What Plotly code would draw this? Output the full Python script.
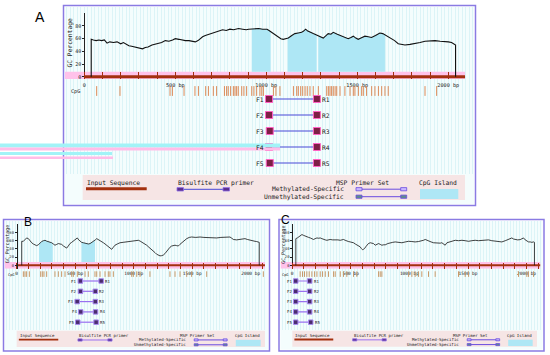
import numpy as np
import plotly.graph_objects as go

W, H = 550, 355
MONO = "DejaVu Sans Mono"
SANS = "Liberation Sans"

# ---------------- data: panel A ----------------
a_bp = [38, 50, 65, 80, 95, 110, 125, 140, 160, 180, 200, 215, 230, 245, 260, 275, 290, 305, 320, 335,
        350, 372, 390, 408, 425, 445, 465, 485, 500, 520, 537, 555, 575, 590, 610, 625, 638, 650, 665, 685,
        702, 720, 738, 760, 780, 800, 820, 848, 870, 890, 903, 930, 958, 980, 1004, 1015, 1031, 1045, 1066, 1080,
        1093, 1110, 1121, 1140, 1157, 1175, 1194, 1205, 1216, 1228, 1240, 1258, 1276, 1295, 1313, 1325, 1340, 1355, 1368, 1390,
        1414, 1430, 1450, 1465, 1478, 1492, 1505, 1520, 1542, 1560, 1578, 1600, 1624, 1640, 1652, 1670, 1688, 1705, 1725, 1745,
        1762, 1790, 1817, 1845, 1872, 1900, 1927, 1955, 1982, 2000, 2018, 2030, 2040]
a_gc = [59, 58, 57, 58, 57, 58, 53, 55, 54, 55, 52, 54, 51, 49, 48, 47, 46, 45, 44, 46,
        47, 50, 51, 53, 54, 57, 56, 58, 60, 59, 58, 57, 57, 56, 55, 57, 61, 63, 65, 67,
        69, 71, 72, 74, 73, 75, 74, 76, 75, 74, 75, 76, 76, 75, 75, 73, 70, 66, 63, 60,
        59, 60, 61, 65, 68, 69, 70, 72, 75, 72, 70, 68, 66, 63, 61, 64, 68, 67, 70, 67,
        64, 62, 60, 62, 64, 61, 59, 61, 64, 63, 62, 65, 69, 68, 66, 64, 60, 57, 52, 51,
        50, 51, 52, 54, 56, 57, 57, 56, 56, 55, 54, 52, 50]
a_islands = [(920, 1024), (1118, 1277), (1286, 1652)]
a_seq_len = 2092
a_cpg = [68, 196, 471, 484, 548, 608, 627, 667, 682, 709, 727, 770, 782, 791, 804, 819, 828, 837, 846, 865,
         877, 892, 920, 932, 947, 965, 975, 984, 1039, 1053, 1075, 1149, 1167, 1176, 1189, 1200, 1213, 1225, 1240,
         1258, 1286, 1332, 1341, 1350, 1359, 1368, 1378, 1387, 1405, 1432, 1460, 1478, 1487, 1506, 1524, 1533,
         1551, 1579, 1597, 1616, 1634, 1652, 1670, 1872, 1936]
a_fwd = [1015, 1015, 1019, 1015, 1019]
a_rev = [1278, 1278, 1278, 1278, 1278]

# ---------------- data: panel B ----------------
b_bp = [43, 57, 70, 85, 100, 115, 128, 142, 156, 170,
        185, 200, 213, 228, 242, 256, 270, 285, 299, 313,
        327, 342, 356, 370, 384, 400, 413, 427, 441, 455,
        470, 484, 500, 518, 530, 541, 555, 570, 585, 598,
        612, 627, 645, 661, 672, 684, 698, 712, 727, 741,
        755, 769, 784, 798, 812, 826, 840, 860, 883, 910,
        940, 970, 997, 1020, 1040, 1055, 1068, 1090, 1111, 1130,
        1154, 1168, 1182, 1196, 1210, 1225, 1239, 1253, 1267, 1282,
        1296, 1310, 1324, 1340, 1353, 1367, 1381, 1395, 1410, 1430,
        1453, 1475, 1495, 1530, 1567, 1600, 1638, 1670, 1709, 1745,
        1780, 1800, 1823, 1838, 1852, 1880, 1909, 1930, 1951, 1972,
        1994, 2015, 2037, 2050, 2065, 2073]
b_gc = [58.5, 58.5, 63, 66.7, 65, 59, 55, 52, 50, 48,
        50, 55, 58, 60, 61, 59, 58, 57, 55, 52,
        49, 51, 53, 52, 51, 47, 45, 42, 47, 53,
        56, 58.5, 62, 66.7, 62, 58.5, 56, 55, 54, 53,
        52, 53, 56, 58.5, 62, 65, 63, 61, 58, 55,
        52, 49, 45, 42, 39, 44, 49, 52, 55, 56,
        57, 57, 58.5, 60, 61, 59, 57, 53, 49, 44,
        39, 35, 31, 27, 24, 23, 23.5, 25, 28.5, 34,
        40.7, 44, 47, 49, 49, 48, 47, 51, 55, 60,
        65, 68, 69, 68, 69, 68, 67.5, 67, 66.7, 68,
        69, 70, 69, 66, 63, 62, 62.6, 64, 65, 63,
        61, 60, 58.5, 58, 57, 56]
b_islands = [(191, 308), (555, 669)]
b_seq_len = 2122
b_cpg = [57, 71, 85, 108, 205, 219, 233, 256, 327, 356, 384, 413, 470, 484, 518, 584, 612, 669, 684, 712,
         755, 783, 797, 826, 983, 997, 1026, 1054, 1139, 1310, 1353, 1396, 1453, 1495, 1624, 2108]
b_fwd = [544, 545, 517, 547, 522]
b_rev = [722, 672, 672, 674, 679]

# ---------------- data: panel C ----------------
c_bp = [31, 45, 54, 70, 83, 97, 110, 125, 140, 154,
        168, 182, 196, 211, 225, 239, 253, 267, 282, 296,
        310, 324, 345, 367, 390, 410, 424, 438, 452, 466,
        480, 495, 509, 523, 538, 552, 566, 580, 590, 600,
        608, 617, 627, 637, 650, 666, 680, 694, 708, 722,
        737, 751, 765, 780, 794, 815, 836, 858, 879, 908,
        936, 965, 993, 1020, 1049, 1078, 1106, 1120, 1135, 1150,
        1163, 1185, 1206, 1228, 1248, 1263, 1277, 1291, 1305, 1320,
        1334, 1348, 1370, 1391, 1420, 1448, 1476, 1505, 1533, 1561,
        1590, 1618, 1646, 1675, 1703, 1732, 1760, 1789, 1818, 1846,
        1860, 1874, 1889, 1903, 1924, 1945, 1960, 1974, 1988, 2002,
        2017, 2031, 2045, 2059, 2067]
c_gc = [65, 67, 69, 72, 75, 73, 71, 69, 68, 66.7,
        64, 63, 65, 66.7, 66, 66.7, 65, 63, 62, 61,
        62, 63, 62, 62.6, 62, 61, 62, 63, 61, 58.5,
        58, 57, 56, 55, 52, 50, 48, 45, 41, 38,
        39, 40.7, 45, 49, 53, 55, 54, 53, 49, 51,
        53, 51, 49, 50, 50, 53, 55, 56, 57, 56,
        55, 57, 58.5, 58, 57, 58, 59, 61, 63, 61,
        58.5, 57, 55, 54, 53, 54, 55, 52, 49, 55,
        56, 57, 59, 61, 60, 61, 60, 58.5, 60, 61,
        60, 61, 61, 62, 60, 58.5, 58, 57, 60, 63,
        65, 66.7, 64, 63, 62, 62.6, 64, 66.7, 62, 58.5,
        57, 57, 56, 57, 56]
c_islands = []
c_seq_len = 2116
c_cpg = [68, 88, 105, 125, 145, 168, 191, 211, 239, 259, 282, 310, 353, 367, 410, 438, 466, 523, 552, 737,
         751, 765, 993, 1021, 1049, 1078, 1106, 1163, 1220, 1419, 1476, 1505, 1931, 2002, 2016, 2059]
c_fwd = [30, 30, 30, 30, 30]
c_rev = [149, 149, 149, 149, 158]

primer_ids = ["1", "2", "3", "4", "5"]
x_tick_vals = [0, 500, 1000, 1500, 2000]
x_tick_text = ["0", "500 bp", "1000 bp", "1500 bp", "2000 bp"]
y_tick_vals = [0, 20, 40, 60, 80]
minor_step = 100

# ---------------- styles ----------------
RED = "#a3300f"
PINK = "#ffc2ea"
CYAN = "#aee7f5"
LEG_BG = "#f6e5e5"
BORDER = "#8a7be3"
BG = "#f4fdfd"
GRID = "#dcf4f7"
TXT = "#1a1a1a"


def X(p):
    return p / W


def Y(p):
    return 1 - p / H


fig = go.Figure()
layout = dict(width=W, height=H, margin=dict(l=0, r=0, t=0, b=0), autosize=False,
              paper_bgcolor="white", plot_bgcolor="rgba(0,0,0,0)", showlegend=False)
shapes, annotations = [], []


def rect(x0, y0, x1, y1, fill=None, line=None, lw=0, layer="below"):
    shapes.append(dict(type="rect", xref="paper", yref="paper", x0=X(x0), x1=X(x1), y0=Y(y1), y1=Y(y0),
                       fillcolor=fill or "rgba(0,0,0,0)",
                       line=dict(color=line or "rgba(0,0,0,0)", width=lw), layer=layer))


def hline(x0, x1, y, color, lw, layer="above"):
    shapes.append(dict(type="line", xref="paper", yref="paper", x0=X(x0), x1=X(x1), y0=Y(y), y1=Y(y),
                       line=dict(color=color, width=lw), layer=layer))


def text(t, x, y, size, anchor="left", family=MONO, angle=0, color=TXT):
    annotations.append(dict(text=t, x=X(x), y=Y(y), xref="paper", yref="paper", xanchor=anchor,
                            yanchor="middle", showarrow=False, textangle=angle, borderpad=0,
                            font=dict(family=family, size=size, color=color)))


def legend(left, top, s, fs, line_col):
    rect(left, top, left + 382.3 * s, top + 25 * s, fill=LEG_BG, layer="below")
    text("Input Sequence", left + 3.3 * s, top + 7.5 * s, fs)
    rect(left + 3.3 * s, top + 12.3 * s, left + 64 * s, top + 15.2 * s, fill=RED, layer="above")
    text("Bisulfite PCR primer", left + 94.6 * s, top + 7.5 * s, fs)
    yb = top + 14.3 * s
    hline(left + 98 * s, left + 143 * s, yb, line_col, 1)
    for bx in (94.3, 140.3):
        rect(left + bx * s, yb - 1.7 * s, left + (bx + 6.5) * s, yb + 1.7 * s,
             fill="#5a2d8c", line="#8f6fe8", lw=0.8, layer="above")
    text("MSP Primer Set", left + 307.3 * s, top + 7.5 * s, fs, "right")
    for lab, dy, fc in (("Methylated-Specific", 14.2, "#c9b8ff"), ("Unmethylated-Specific", 21.7, "#5e8c8c")):
        yy = top + dy * s
        text(lab, left + 262.3 * s, yy, fs, "right")
        hline(left + 276 * s, left + 321 * s, yy, "#6a4ce0", 1)
        for bx in (273.3, 318):
            rect(left + bx * s, yy - 1.6 * s, left + (bx + 6) * s, yy + 1.6 * s,
                 fill=fc, line="#6a4ce0", lw=0.8, layer="above")
    text("CpG Island", left + 355.3 * s, top + 7.5 * s, fs, "center")
    rect(left + 337.3 * s, top + 14 * s, left + 375.6 * s, top + 24 * s, fill=CYAN, layer="above")


def panel(k, bp, gc, islands, seq_len, cpg, fwd, rev, *, box, inner, grid_bottom, grid_step,
          origin, scale, xright, y0, ppu, ymin, ymax, pink, f1, sp, cpg_row, rows_px,
          letter, title, xfs, yfs, cpgfs, prfs, leg, legfs, gc_lw, bar_lw, tl,
          box_size, cpg_size, cpg_col, pr_line, pr_fill, pr_edge, pr_shift):
    gi, ri = k + 3, k + 6
    sfx = "" if k == 1 else str(k)
    # background stripes subplot
    layout[f"xaxis{sfx}"] = dict(
        domain=[X(inner[0]), X(inner[2])], range=[0, (inner[2] - inner[0]) / grid_step],
        anchor=f"y{sfx}", showgrid=True, gridcolor=GRID, gridwidth=1, dtick=1, tick0=0.5,
        showticklabels=False, ticks="", zeroline=False, showline=False)
    layout[f"yaxis{sfx}"] = dict(
        domain=[Y(grid_bottom), Y(inner[1])], range=[0, 1], visible=False, anchor=f"x{sfx}")
    fig.add_trace(go.Scatter(x=[0], y=[0], xaxis=f"x{sfx}", yaxis=f"y{sfx}",
                             mode="markers", marker=dict(opacity=0), hoverinfo="skip"))
    rect(inner[0], inner[1], inner[2], inner[3], fill=BG, layer="below")
    rect(*box, line=BORDER, lw=1.5, layer="above")

    xl = inner[0]
    minor_vals = list(range(0, seq_len + 1, minor_step))
    layout[f"xaxis{gi}"] = dict(
        domain=[X(xl), X(xright)], range=[(xl - origin) / scale, (xright - origin) / scale],
        anchor=f"y{gi}", showgrid=False, zeroline=False, showline=False,
        tickmode="array", tickvals=x_tick_vals, ticktext=x_tick_text,
        ticks="inside", ticklen=tl, tickwidth=1, tickcolor=RED,
        minor=dict(tickmode="array", tickvals=minor_vals, ticks="inside", ticklen=tl, tickwidth=1,
                   tickcolor=RED, showgrid=False),
        tickfont=dict(family=MONO, size=xfs, color=TXT), ticklabelstandoff=1)
    layout[f"yaxis{gi}"] = dict(
        domain=[Y(y0 - ymin * ppu), Y(y0 - ymax * ppu)], range=[ymin, ymax], anchor="free",
        position=X(origin), showline=True, linecolor="#222", linewidth=1, ticks="outside", ticklen=2,
        tickcolor="#222", tickvals=y_tick_vals, showgrid=False, zeroline=False,
        tickfont=dict(family=MONO, size=yfs, color=TXT))
    layout[f"yaxis{ri}"] = dict(
        domain=[Y(rows_px[1]), Y(rows_px[0])],
        range=[1 + (rows_px[1] - f1) / sp, 1 + (rows_px[0] - f1) / sp],
        anchor=f"x{gi}", visible=False, showgrid=False, zeroline=False)

    xa, ya = f"x{gi}", f"y{gi}"
    x0b = (xl - origin) / scale
    # pink band
    fig.add_trace(go.Scatter(x=[x0b, seq_len, seq_len, x0b], y=[pink[0], pink[0], pink[1], pink[1]],
                             fill="toself", fillcolor=PINK, line=dict(width=0), mode="lines",
                             xaxis=xa, yaxis=ya, hoverinfo="skip"))
    # CpG islands: area under the GC curve
    bpa, gca = np.asarray(bp, float), np.asarray(gc, float)
    for s, e in islands:
        m = (bpa > s) & (bpa < e)
        xs = [s] + list(bpa[m]) + [e, e, s]
        ys = [np.interp(s, bpa, gca)] + list(gca[m]) + [np.interp(e, bpa, gca), pink[1], pink[1]]
        fig.add_trace(go.Scatter(x=xs, y=ys, fill="toself", fillcolor=CYAN, line=dict(width=0),
                                 mode="lines", xaxis=xa, yaxis=ya, hoverinfo="skip"))
    # input sequence bar
    fig.add_trace(go.Scatter(x=[0, seq_len], y=[0, 0], mode="lines", line=dict(color=RED, width=bar_lw),
                             xaxis=xa, yaxis=ya, hoverinfo="skip"))
    # GC content line
    fig.add_trace(go.Scatter(x=[bp[0]] + list(bp) + [bp[-1]], y=[0] + list(gc) + [0], mode="lines",
                             line=dict(color="#111", width=gc_lw), xaxis=xa, yaxis=ya, hoverinfo="skip"))
    # CpG sites
    fig.add_trace(go.Scatter(x=cpg, y=[cpg_row] * len(cpg), mode="markers", xaxis=xa, yaxis=f"y{ri}",
                             marker=dict(symbol="line-ns", size=cpg_size, line=dict(color=cpg_col, width=1)),
                             cliponaxis=False, hoverinfo="skip"))
    rows = list(range(1, len(fwd) + 1))
    lx, ly = [], []
    for f, r, row in zip(fwd, rev, rows):
        lx += [f, r, None]
        ly += [row, row, None]
    fig.add_trace(go.Scatter(x=lx, y=ly, mode="lines", line=dict(color=pr_line, width=1.2),
                             xaxis=xa, yaxis=f"y{ri}", hoverinfo="skip"))
    fig.add_trace(go.Scatter(x=list(fwd) + list(rev), y=rows + rows, mode="markers", xaxis=xa, yaxis=f"y{ri}",
                             marker=dict(symbol="square", size=box_size, color=pr_fill,
                                         line=dict(color=pr_edge, width=1)),
                             cliponaxis=False, hoverinfo="skip"))
    for f, r, row, pid in zip(fwd, rev, rows, primer_ids):
        annotations.append(dict(text="F" + pid, x=f, y=row, xref=xa, yref=f"y{ri}", xanchor="right",
                                yanchor="middle", xshift=-pr_shift, showarrow=False, borderpad=0,
                                font=dict(family=MONO, size=prfs, color=TXT)))
        annotations.append(dict(text="R" + pid, x=r, y=row, xref=xa, yref=f"y{ri}", xanchor="left",
                                yanchor="middle", xshift=pr_shift, showarrow=False, borderpad=0,
                                font=dict(family=MONO, size=prfs, color=TXT)))
    # labels
    text("CpG", cpg_lab[k][0], cpg_lab[k][1], cpgfs)
    text("GC Percentage", title[0], title[1], title[2], "center", angle=-90)
    text(letter[0], letter[1], letter[2], letter[3], "center", family=SANS, color="#000")
    legend(leg[0], leg[1], leg[2], legfs, pr_line)


cpg_lab = {1: (69.5, 91.7), 2: (6.5, 274.7), 3: (281, 274.7)}

panel(1, a_bp, a_gc, a_islands, a_seq_len, a_cpg, a_fwd, a_rev,
      box=(63.5, 5.5, 475.5, 205.5), inner=(65, 7, 474, 204), grid_bottom=174, grid_step=3.5,
      origin=84.3, scale=0.182, xright=470, y0=76.8, ppu=0.635, ymin=-4, ymax=101, pink=(-3.6, 8.0),
      f1=99, sp=16, cpg_row=0.5, rows_px=(86, 170),
      letter=("A", 40, 17, 14), title=(69.5, 43, 6.3), xfs=5.2, yfs=5, cpgfs=5.2, prfs=6.3,
      leg=(82.7, 175, 1.0), legfs=6.3, gc_lw=1.1, bar_lw=3, tl=7, box_size=7, cpg_size=7,
      cpg_col="#dc8a58", pr_line="#4848d8", pr_fill="#7d1f45", pr_edge="#ff62c4", pr_shift=4.5)

panel(2, b_bp, b_gc, b_islands, b_seq_len, b_cpg, b_fwd, b_rev,
      box=(3.5, 219.5, 269.5, 351), inner=(5, 221, 268, 349.5), grid_bottom=330, grid_step=3.0,
      origin=16.7, scale=0.117, xright=266, y0=265.3, ppu=0.41, ymin=-8.5, ymax=101, pink=(-8.3, 8.0),
      f1=281, sp=10.3, cpg_row=0.33, rows_px=(270, 327),
      letter=("B", 27.5, 222, 12), title=(7.7, 244.5, 4.9), xfs=4.5, yfs=3.8, cpgfs=3.6, prfs=4,
      leg=(16.7, 330.7, 0.6495), legfs=4.1, gc_lw=0.8, bar_lw=2, tl=6, box_size=4.5, cpg_size=4,
      cpg_col="#c89a6a", pr_line="#9a70f0", pr_fill="#4a2c6e", pr_edge="#a88af0", pr_shift=3)

panel(3, c_bp, c_gc, c_islands, c_seq_len, c_cpg, c_fwd, c_rev,
      box=(279, 219.5, 544, 351), inner=(280.5, 221, 542.5, 349.5), grid_bottom=330, grid_step=3.0,
      origin=292.2, scale=0.1172, xright=541, y0=265.3, ppu=0.41, ymin=-8.5, ymax=101, pink=(-8.3, 8.0),
      f1=281, sp=10.3, cpg_row=0.33, rows_px=(270, 327),
      letter=("C", 285.5, 220, 12), title=(283.3, 244.5, 4.9), xfs=4.5, yfs=3.8, cpgfs=3.6, prfs=4,
      leg=(292.3, 330.7, 0.64), legfs=4.1, gc_lw=0.8, bar_lw=2, tl=6, box_size=4.5, cpg_size=4,
      cpg_col="#c89a6a", pr_line="#9a70f0", pr_fill="#4a2c6e", pr_edge="#a88af0", pr_shift=3)

# scanning artefact stripes visible in panel A of the original image
rect(0, 143.5, 280, 147.5, fill="#a2f3f7", layer="above")
rect(0, 147.5, 280, 150.5, fill="#ffbde8", layer="above")
rect(0, 152, 112, 155, fill="#a2f3f7", layer="above")
rect(0, 156.5, 113, 159, fill="#ffbde8", layer="above")

layout["shapes"] = shapes
layout["annotations"] = annotations
fig.update_layout(**layout)
fig.write_html("out.html", config={"staticPlot": True, "displayModeBar": False},
               post_script="document.body.style.margin='0';document.body.style.overflow='hidden';")
